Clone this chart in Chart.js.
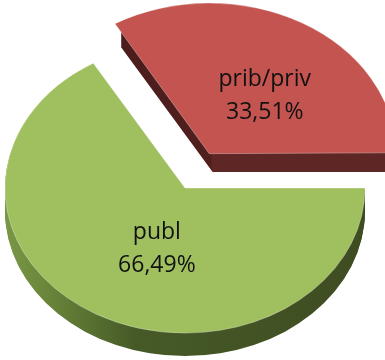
<!DOCTYPE html>
<html>
<head>
<meta charset="utf-8">
<script src="https://cdn.jsdelivr.net/npm/chart.js@4.4.0/dist/chart.umd.min.js"></script>
<style>
  html, body { margin: 0; padding: 0; background: #fff; }
  #wrap { width: 385px; height: 360px; }
</style>
</head>
<body>
<div id="wrap"><canvas id="sharesChart"></canvas></div>
<script>
const labels = ['prib/priv', 'publ'];
const shares = [33.51, 66.49];
const topColors = ['#c4544f', '#a0c05f'];
const explode = [196, 0];

const TILT = 0.806;   // vertical squash of the pie top
const DEPTH = 23;     // slab thickness in px

const total = shares.reduce((a, b) => a + b, 0);
// first slice ends at 3 o'clock
const rotation = 90 - shares[0] / total * 360;

function pctText(v) {
    return v.toFixed(2).replace('.', ',') + '%';
}

// same shift ArcElement.draw applies for its offset option
function sliceShift(arc) {
    const off = (arc.options.offset || 0) / 4;
    const fix = 1 - Math.sin(Math.min(Math.PI, arc.circumference));
    const mid = (arc.startAngle + arc.endAngle) / 2;
    const d = off + off * fix;
    return { x: Math.cos(mid) * d, y: Math.sin(mid) * d };
}

function squash(ctx, cy) {
    ctx.translate(0, cy);
    ctx.scale(1, TILT);
    ctx.translate(0, -cy);
}

function sectorPath(ctx, arc, s) {
    const cx = arc.x + s.x, cy = arc.y + s.y;
    ctx.beginPath();
    ctx.moveTo(cx, cy);
    ctx.arc(cx, cy, arc.outerRadius, arc.startAngle, arc.endAngle);
    ctx.closePath();
}

function sideStyle(ctx, index, vx, width) {
    const g = ctx.createLinearGradient(0, 0, width, 0);
    if (index === 0) {
        const t = Math.min(Math.max(vx / width, 0.01), 0.99);
        g.addColorStop(0, '#45191a');
        g.addColorStop(t - 0.005, '#50201e');
        g.addColorStop(t, '#5e2624');
        g.addColorStop(1, '#5e2624');
    } else {
        g.addColorStop(0, '#7b9a48');
        g.addColorStop(0.12, '#6a863a');
        g.addColorStop(0.35, '#465a27');
        g.addColorStop(1, '#3e4b21');
    }
    return g;
}

const slabPlugin = {
    id: 'slab',
    beforeDatasetsDraw(chart) {
        const ctx = chart.ctx;
        const arcs = chart.getDatasetMeta(0).data;
        const cy = arcs[0].y;

        arcs.forEach((arc, i) => {
            const s = sliceShift(arc);
            ctx.save();
            ctx.fillStyle = sideStyle(ctx, i, arc.x + s.x, chart.width);
            for (let d = DEPTH; d > 0; d--) {
                ctx.save();
                ctx.translate(0, d);
                squash(ctx, cy);
                sectorPath(ctx, arc, s);
                ctx.fill();
                ctx.restore();
            }
            ctx.restore();
        });

        // tops get drawn by Chart.js inside this squash
        ctx.save();
        squash(ctx, cy);
    },
    afterDatasetsDraw(chart) {
        const ctx = chart.ctx;
        ctx.restore();

        const arcs = chart.getDatasetMeta(0).data;
        const cy = arcs[0].y;
        ctx.save();
        ctx.font = '23px "Open Sans"';
        ctx.fillStyle = '#111';
        ctx.textAlign = 'center';
        arcs.forEach((arc, i) => {
            const s = sliceShift(arc);
            const mid = (arc.startAngle + arc.endAngle) / 2;
            const r = arc.outerRadius * 0.45;
            const fx = arc.x + s.x + Math.cos(mid) * r;
            const fy = arc.y + s.y + Math.sin(mid) * r;
            const x = fx + 12;
            const y = cy + (fy - cy) * TILT + 3;
            ctx.fillText(labels[i], x, y - 9);
            ctx.fillText(pctText(shares[i]), x, y + 24);
        });
        ctx.restore();
    }
};

const ctx = document.getElementById('sharesChart').getContext('2d');
new Chart(ctx, {
    type: 'pie',
    data: {
        labels: labels,
        datasets: [{
            data: shares,
            backgroundColor: topColors,
            borderColor: 'rgba(255,255,255,0.35)',
            borderWidth: 1,
            offset: explode,
            clip: false
        }]
    },
    options: {
        responsive: true,
        maintainAspectRatio: false,
        animation: false,
        events: [],
        rotation: rotation,
        radius: 180,
        layout: { padding: { left: 0, right: 15, top: 16, bottom: 0 } },
        plugins: {
            legend: { display: false },
            tooltip: { enabled: false }
        }
    },
    plugins: [slabPlugin]
});
</script>
</body>
</html>
